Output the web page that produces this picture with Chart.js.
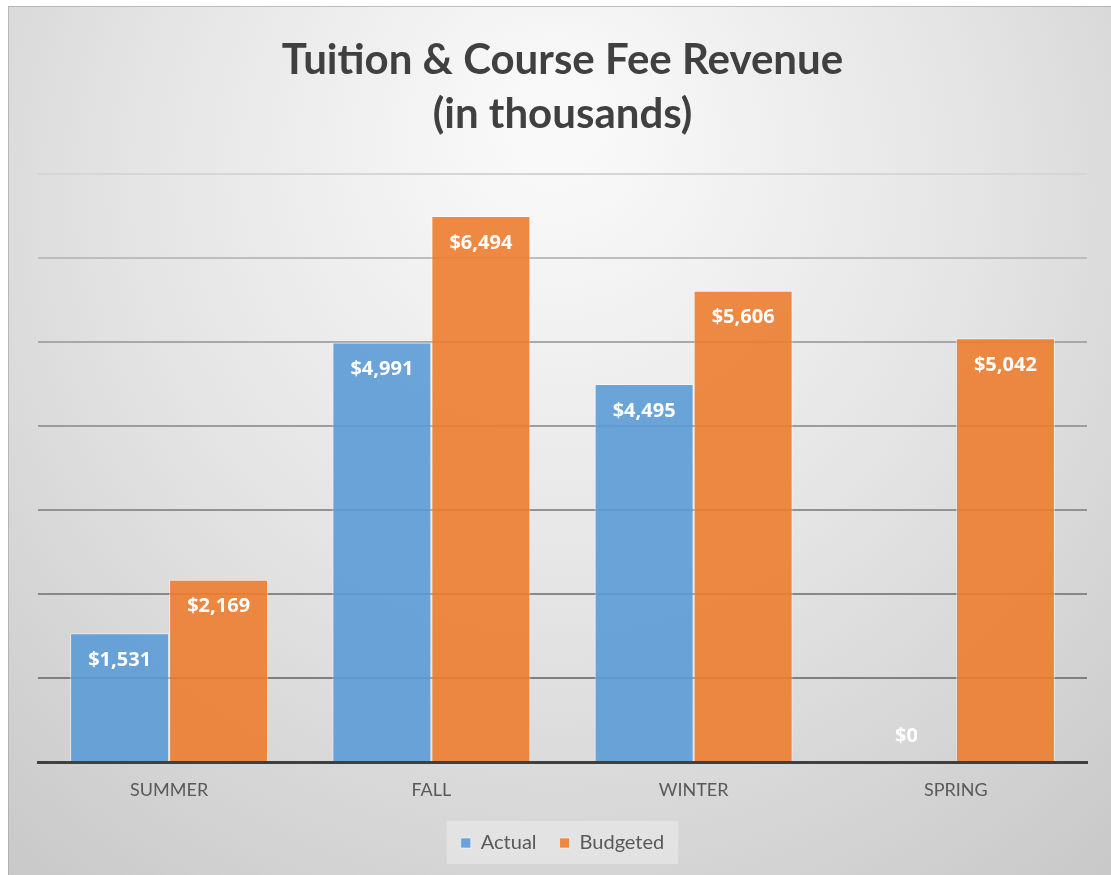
<!DOCTYPE html>
<html>
<head>
<meta charset="utf-8">
<script src="https://cdn.jsdelivr.net/npm/chart.js@4.4.0/dist/chart.umd.min.js"></script>
<style>
  html, body { margin: 0; padding: 0; background: #ffffff; }
  #wrap { width: 1111px; height: 875px; }
</style>
</head>
<body>
<div id="wrap"><canvas id="revChart" width="1111" height="875"></canvas></div>
<script>
// 차트 데이터
const terms = ['SUMMER', 'FALL', 'WINTER', 'SPRING'];
const actual = [1531, 4991, 4495, 0];
const budgeted = [2169, 6494, 5606, 5042];
const titleLines = ['Tuition & Course Fee Revenue', '(in thousands)'];

// 그리드 선 색 (위쪽은 옅고 아래쪽은 진함)
const gridShades = { 1000: '#7f7f7f', 2000: '#888888', 3000: '#929292', 4000: '#9c9c9c', 5000: '#a8a8a8', 6000: '#bdbdbd', 7000: '#d6d6d6' };

function money(v) {
  return '$' + v.toLocaleString('en-US');
}

// 배경 그라데이션 + 범례 상자
const backdrop = {
  id: 'backdrop',
  beforeDraw(chart) {
    const c = chart.ctx;
    const w = chart.width, h = chart.height;
    c.save();
    c.fillStyle = '#ffffff';
    c.fillRect(0, 0, w, h);
    const g = c.createRadialGradient(w / 2, 120, 40, w / 2, 260, 900);
    g.addColorStop(0, '#f9f9f9');
    g.addColorStop(0.45, '#e4e4e4');
    g.addColorStop(1, '#c4c4c4');
    c.fillStyle = g;
    c.fillRect(8, 6, w - 8, h - 6);
    c.strokeStyle = 'rgba(160,160,160,0.6)';
    c.lineWidth = 1;
    c.strokeRect(8.5, 6.5, w - 8, h - 6);

    // 범례 항목 둘레에만 상자
    const lg = chart.legend;
    if (lg && lg.legendHitBoxes && lg.legendHitBoxes.length) {
      const boxes = lg.legendHitBoxes;
      const left = Math.min(...boxes.map(b => b.left)) - 14;
      const right = Math.max(...boxes.map(b => b.left + b.width)) + 14;
      const top = Math.min(...boxes.map(b => b.top)) - 12;
      const bottom = Math.max(...boxes.map(b => b.top + b.height)) + 11;
      c.fillStyle = 'rgba(235,235,235,0.6)';
      c.fillRect(left, top, right - left, bottom - top);
    }
    c.restore();
  }
};

// 막대 안쪽 위에 값 표시
const barLabels = {
  id: 'barLabels',
  afterDatasetsDraw(chart) {
    const c = chart.ctx;
    c.save();
    c.font = 'bold 20px "Open Sans", Lato, sans-serif';
    c.fillStyle = '#ffffff';
    c.textAlign = 'center';
    c.textBaseline = 'middle';
    chart.data.datasets.forEach((ds, i) => {
      chart.getDatasetMeta(i).data.forEach((bar, j) => {
        const v = ds.data[j];
        const y = v === 0 ? bar.base - 26 : bar.y + 27;
        c.fillText(money(v), bar.x, y);
      });
    });
    c.restore();
  }
};

new Chart(document.getElementById('revChart'), {
  type: 'bar',
  data: {
    labels: terms,
    datasets: [
      {
        label: 'Actual',
        data: actual,
        backgroundColor: 'rgba(91,155,213,0.9)',
        borderColor: 'rgba(255,255,255,0.55)',
        borderWidth: 1,
        categoryPercentage: 0.755,
        barPercentage: 1.0
      },
      {
        label: 'Budgeted',
        data: budgeted,
        backgroundColor: 'rgba(237,125,49,0.9)',
        borderColor: 'rgba(255,255,255,0.55)',
        borderWidth: 1,
        categoryPercentage: 0.755,
        barPercentage: 1.0
      }
    ]
  },
  options: {
    responsive: false,
    animation: false,
    layout: { padding: { left: 38, right: 24, top: 0, bottom: 12 } },
    plugins: {
      title: {
        display: true,
        text: titleLines,
        color: '#404040',
        font: { family: 'Lato, "Open Sans", sans-serif', size: 42, weight: 'bold', lineHeight: 1.28 },
        padding: { top: 34, bottom: 32 }
      },
      legend: {
        display: true,
        position: 'bottom',
        labels: {
          boxWidth: 10,
          boxHeight: 10,
          color: '#595959',
          font: { family: 'Lato, "Open Sans", sans-serif', size: 20 },
          padding: 23,
          useBorderRadius: false
        }
      },
      tooltip: { enabled: false }
    },
    scales: {
      x: {
        grid: { display: false, drawTicks: false },
        border: { display: true, color: '#3f3f3f', width: 3 },
        ticks: {
          color: '#595959',
          padding: 17,
          font: { family: 'Lato, "Open Sans", sans-serif', size: 18 }
        },
        afterFit(scale) {
          scale.height = 48;
        }
      },
      y: {
        min: 0,
        max: 7000,
        ticks: { display: false, stepSize: 1000 },
        border: { display: false },
        grid: {
          drawTicks: false,
          lineWidth: 2,
          color: ctx => gridShades[ctx.tick.value] || 'rgba(0,0,0,0)'
        }
      }
    }
  },
  plugins: [backdrop, barLabels]
});
</script>
</body>
</html>
